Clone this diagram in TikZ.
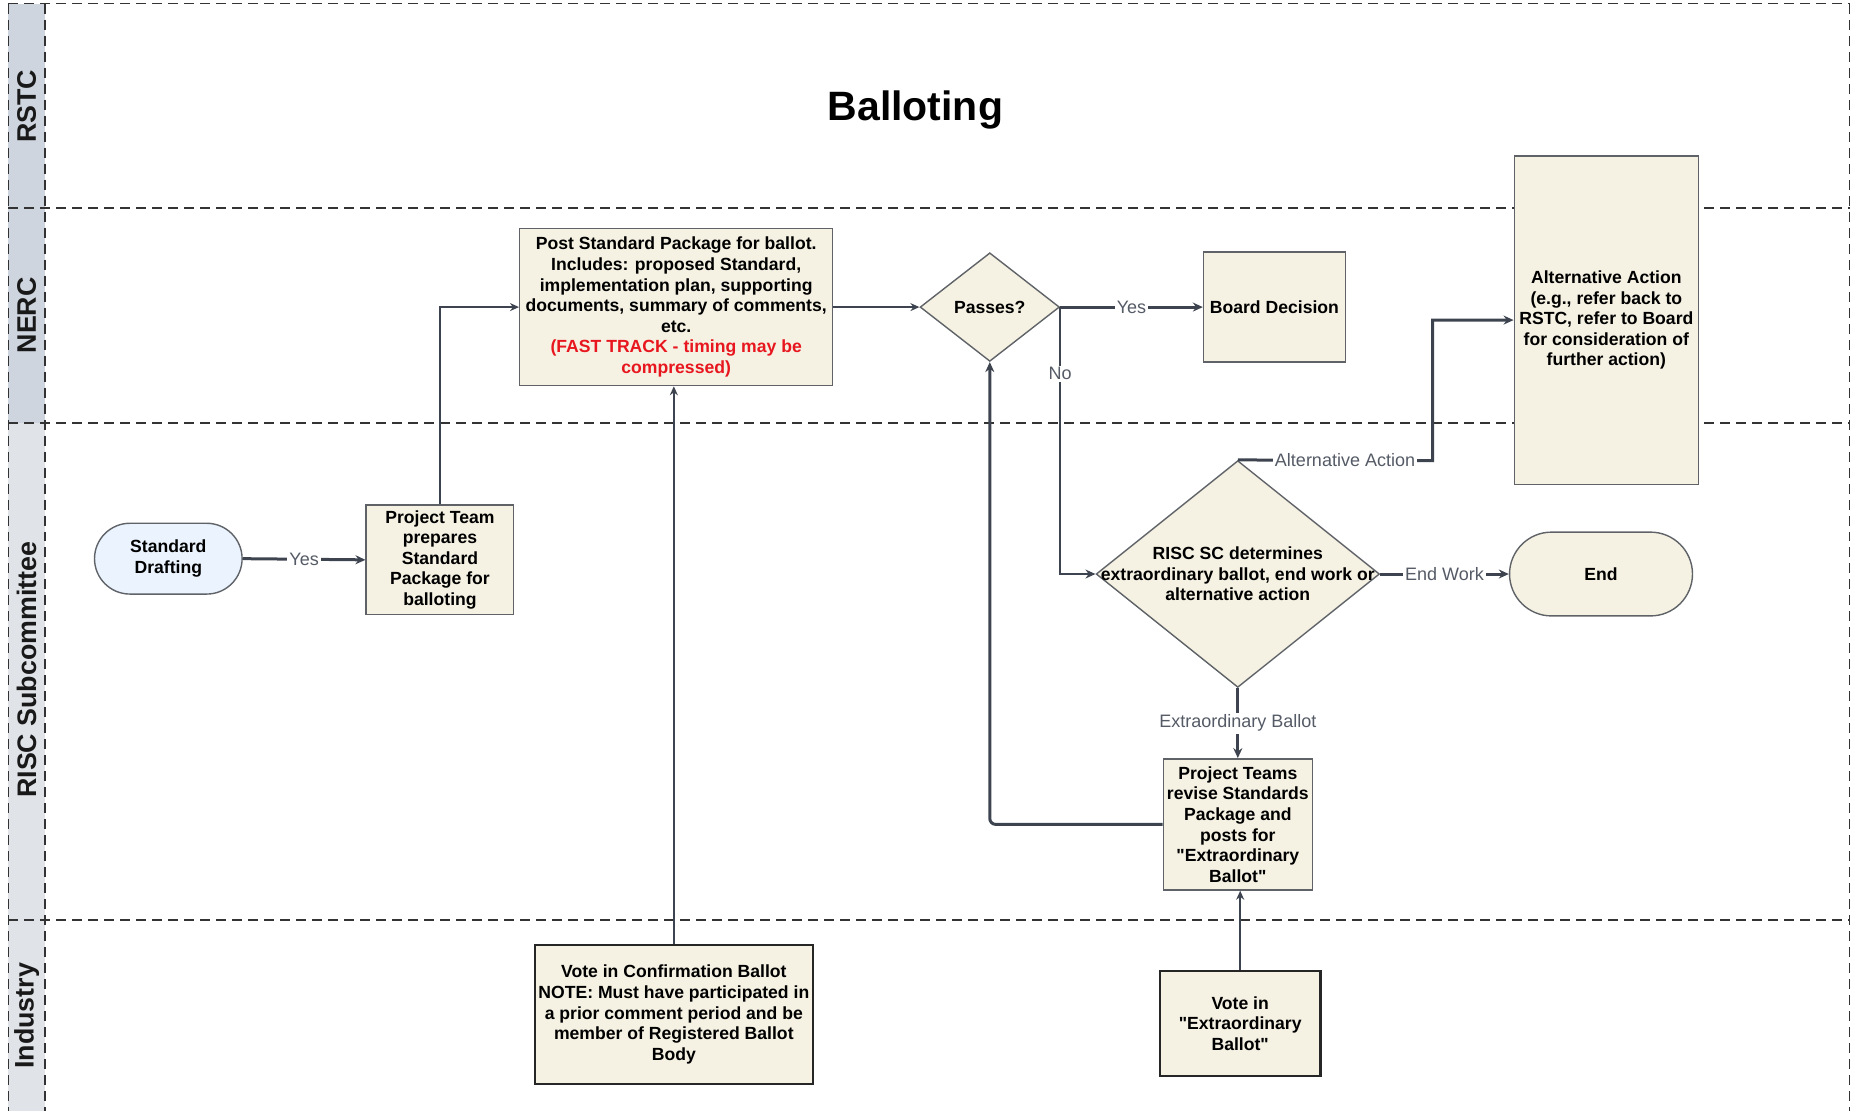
\documentclass[tikz,border=0pt]{standalone}
\usepackage{fontspec}
\setmainfont{Liberation Sans}[Ligatures=TeXOff]
\usetikzlibrary{shapes.geometric,arrows.meta}
\definecolor{cream}{HTML}{F5F2E3}
\definecolor{bordergray}{HTML}{5F6368}
\definecolor{linec}{HTML}{3D4450}
\definecolor{lblc}{HTML}{555B66}
\definecolor{stripA}{HTML}{CED5DF}
\definecolor{stripB}{HTML}{E0E3E8}
\definecolor{sdblue}{HTML}{EAF3FE}
\definecolor{fastred}{HTML}{E8161E}
\definecolor{dashc}{HTML}{333333}
\begin{document}
\begin{tikzpicture}[x=0.5906pt,y=-0.5906pt,
  boxfont/.style={font=\bfseries\fontsize{8.8}{10.3}\selectfont},
  box/.style={boxfont,draw=bordergray,line width=0.7pt,fill=cream,align=center,inner sep=1pt},
  votebox/.style={box,draw=black!85,line width=1.1pt},
  dia/.style={diamond,draw=bordergray,line width=0.7pt,fill=cream,inner sep=0pt},
  diatext/.style={boxfont,align=center,inner sep=0pt},
  lane/.style={draw=dashc,line width=0.7pt,dash pattern=on 5pt off 3pt},
  lanelbl/.style={rotate=90,font=\bfseries\fontsize{13.4}{15}\selectfont,text=black!90},
  conn/.style={draw=linec,line width=1.5pt,-{Stealth[length=5pt,width=4.5pt]}},
  thinconn/.style={draw=linec,line width=0.75pt,-{Stealth[length=4.5pt,width=4pt]}},
  lbl/.style={fill=white,inner sep=1pt,text=lblc,font=\fontsize{9}{10}\selectfont}
]
\useasboundingbox (0,0) rectangle (1568,941);
% swimlane strip
\fill[stripA] (7,3) rectangle (38,358);
\fill[stripB] (7,358) rectangle (38,941);
\draw[lane] (7,3) -- (1566,3);
\draw[lane] (7,176) -- (1566,176);
\draw[lane] (7,358) -- (1566,358);
\draw[lane] (7,779) -- (1566,779);
\draw[lane] (7,3) -- (7,941);
\draw[lane] (38,3) -- (38,941);
\draw[lane] (1566,3) -- (1566,941);
\node[lanelbl] (lrstc) at (22.5,90) {RSTC};
\node[lanelbl] (lnerc) at (22.5,267) {NERC};
\node[lanelbl] (lrisc) at (22.5,567) {RISC Subcommittee};
\node[lanelbl] (lind) at (22.5,860) {Industry};
% title
\node[font=\bfseries\fontsize{20.5}{24}\selectfont] (title) at (775,93) {Balloting};
% nodes
\node[box,fill=sdblue,rounded corners=17.7pt,minimum width=73.8pt,minimum height=35.4pt] (sd) at (142.5,473) {Standard\\Drafting};
\node[box,minimum width=73.8pt,minimum height=54.9pt] (pt) at (372.5,474) {Project Team\\prepares\\Standard\\Package for\\balloting};
\node[box,minimum width=156.5pt,minimum height=78.5pt] (post) at (572.5,260) {Post Standard Package for ballot.\\Includes: proposed Standard,\\implementation plan, supporting\\documents, summary of comments,\\etc.\\\textcolor{fastred}{(FAST TRACK - timing may be}\\\textcolor{fastred}{compressed)}};
\node[dia,minimum width=69.7pt,minimum height=54.3pt] (passes) at (838,260) {};
\node[diatext] (passestxt) at (passes.center) {Passes?};
\node[box,minimum width=70.9pt,minimum height=54.9pt] (board) at (1079,260) {Board Decision};
\node[box,minimum width=92.1pt,minimum height=164.2pt] (alt) at (1360,271) {Alternative Action\\(e.g., refer back to\\RSTC, refer to Board\\for consideration of\\further action)};
\node[dia,minimum width=141.7pt,minimum height=113.4pt] (risc) at (1048,486) {};
\node[diatext] (risctxt) at (risc.center) {RISC SC determines\\extraordinary ballot, end work or\\alternative action};
\node[box,rounded corners=21pt,minimum width=91.5pt,minimum height=41.9pt] (end) at (1355.5,486) {End};
\node[box,minimum width=74.4pt,minimum height=65.6pt] (ptr) at (1048,698) {Project Teams\\revise Standards\\Package and\\posts for\\"Extraordinary\\Ballot"};
\node[votebox,minimum width=138.8pt,minimum height=69.7pt] (vc) at (570.5,859) {Vote in Confirmation Ballot\\NOTE: Must have participated in\\a prior comment period and be\\member of Registered Ballot\\Body};
\node[votebox,minimum width=80.3pt,minimum height=52.6pt] (ve) at (1050,866.5) {Vote in\\"Extraordinary\\Ballot"};
% connectors
\draw[conn] (sd.east) -- node[lbl] {Yes} (pt.west);
\draw[thinconn] (pt.north) |- (post.west);
\draw[thinconn,line width=1.1pt] (post.east) -- (passes.west);
\draw[conn] (passes.east) -- node[lbl] {Yes} (board.west);
\draw[conn,line width=1.2pt] (passes.east) |- node[lbl,pos=0.125] {No} (risc.west);
\coordinate (altbend) at (1213,390);
\draw[conn] (risc.north) -- node[lbl,pos=0.55] {Alternative Action} (altbend) |- (alt.west);
\draw[conn] (risc.east) -- node[lbl] {End Work} (end.west);
\draw[conn] (risc.south) -- node[lbl] {Extraordinary Ballot} (ptr.north);
\draw[conn,rounded corners=3pt] (ptr.west) -| (passes.south);
\draw[thinconn] (vc.north) -- (vc.north |- post.south);
\draw[thinconn] (ve.north) -- (ve.north |- ptr.south);
\end{tikzpicture}
\end{document}
